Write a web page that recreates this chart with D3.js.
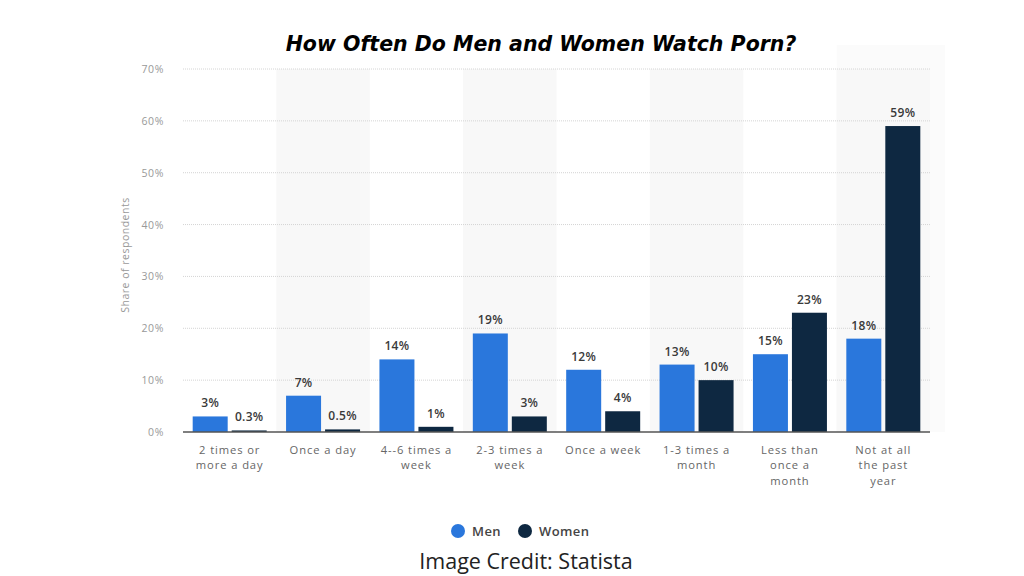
<!DOCTYPE html>
<html><head><meta charset="utf-8">
<script src="https://cdn.jsdelivr.net/npm/d3@7"></script>
<style>body{margin:0;background:#fff;}svg{display:block;}</style>
</head><body>
<svg id="c" width="1024" height="576"></svg>
<script>
const categories = [["2 times or","more a day"],["Once a day"],["4--6 times a","week"],["2-3 times a","week"],["Once a week"],["1-3 times a","month"],["Less than","once a","month"],["Not at all","the past","year"]];
const men = [3,7,14,19,12,13,15,18];
const women = [0.3,0.5,1,3,4,10,23,59];
const menLabels = ["3%","7%","14%","19%","12%","13%","15%","18%"];
const womenLabels = ["0.3%","0.5%","1%","3%","4%","10%","23%","59%"];
const yTicks = [0,10,20,30,40,50,60,70];
const seriesNames = ["Men","Women"];
const colors = ["#2a77dc","#0e2841"];

(function(){
const svg = d3.select("#c");
const pL = 183, pR = 930, pT = 69, pB = 432;
const x = d3.scaleBand().domain(d3.range(categories.length)).range([pL,pR]).paddingInner(0).paddingOuter(0);
const y = d3.scaleLinear().domain([0,70]).range([pB, pT]);
const bw = x.bandwidth();
const barW = 35, gap = 4, off = (bw - 2*barW - gap)/2;
const font = "Open Sans, sans-serif";

// faint panel at right end
svg.append("rect").attr("x", x(categories.length-1)).attr("y",45)
  .attr("width", 945 - x(categories.length-1)).attr("height", pB-45).attr("fill","#fbfbfb");

// alternating shaded bands
svg.append("g").selectAll("rect").data(d3.range(categories.length).filter(i=>i%2===1)).join("rect")
  .attr("x", i=>x(i)).attr("width", bw)
  .attr("y", pT).attr("height", pB-pT)
  .attr("fill","#f8f8f8");

// gridlines
svg.append("g").selectAll("line").data(yTicks.filter(t=>t>0)).join("line")
  .attr("x1", pL).attr("x2", pR).attr("y1", d=>y(d)).attr("y2", d=>y(d))
  .attr("stroke","#d4d4d4").attr("stroke-dasharray","1,1").attr("stroke-width",1);

// y tick labels
svg.append("g").selectAll("text").data(yTicks).join("text")
  .attr("x", 164).attr("y", d=>y(d)+4).attr("text-anchor","end")
  .attr("font-family",font).attr("font-size",10.5).attr("letter-spacing",0.6).attr("fill","#999")
  .text(d=>d+"%");

// y title
svg.append("text").attr("transform","translate(129,255) rotate(-90)")
  .attr("text-anchor","middle").attr("font-family",font)
  .attr("font-size",10.5).attr("letter-spacing",0.5).attr("fill","#999").text("Share of respondents");

// bars
const gm = svg.append("g");
gm.selectAll("rect.m").data(men).join("rect").attr("class","m")
  .attr("x",(d,i)=>x(i)+off).attr("width",barW)
  .attr("y",d=>y(d)).attr("height",d=>pB-y(d)).attr("fill",colors[0]);
gm.selectAll("rect.w").data(women).join("rect").attr("class","w")
  .attr("x",(d,i)=>x(i)+off+barW+gap).attr("width",barW)
  .attr("y",d=>y(d)).attr("height",d=>pB-y(d)).attr("fill",colors[1]);

// value labels
const lblStyle = s => s.attr("text-anchor","middle").attr("font-family",font)
  .attr("font-size",12).attr("font-weight",600).attr("letter-spacing",0.3).attr("fill","#3a3a3a");
gm.selectAll("text.ml").data(men).join("text").attr("class","ml")
  .attr("x",(d,i)=>x(i)+off+barW/2).attr("y",d=>y(d)-9).text((d,i)=>menLabels[i]).call(lblStyle);
gm.selectAll("text.wl").data(women).join("text").attr("class","wl")
  .attr("x",(d,i)=>x(i)+off+barW+gap+barW/2).attr("y",d=>y(d)-9).text((d,i)=>womenLabels[i]).call(lblStyle);

// baseline
svg.append("line").attr("x1",pL).attr("x2",pR).attr("y1",pB).attr("y2",pB)
  .attr("stroke","#555").attr("stroke-width",1.5);

// category labels (one text per line)
const lines = [];
categories.forEach((c,i)=>c.forEach((t,j)=>lines.push({i,j,t})));
svg.append("g").selectAll("text").data(lines).join("text")
  .attr("x",d=>x(d.i)+bw/2).attr("y",d=>454+d.j*15.3).attr("text-anchor","middle")
  .attr("font-family",font).attr("font-size",11.2).attr("letter-spacing",0.9).attr("fill","#666")
  .text(d=>d.t);

// legend
const legX = [458,525];
const lg = svg.append("g").selectAll("g").data(seriesNames).join("g")
  .attr("transform",(d,i)=>`translate(${legX[i]},531)`);
lg.append("circle").attr("r",7).attr("fill",(d,i)=>colors[i]);
lg.append("text").attr("x",14).attr("y",5).attr("font-family",font)
  .attr("font-size",13).attr("font-weight",600).attr("letter-spacing",0.4).attr("fill","#444").text(d=>d);

// title
svg.append("text").attr("x",541).attr("y",51).attr("text-anchor","middle")
  .attr("font-family","DejaVu Sans, sans-serif").attr("font-size",20.5).attr("font-weight",700)
  .attr("font-style","italic").attr("fill","#000").text("How Often Do Men and Women Watch Porn?");

// credit
svg.append("text").attr("x",526).attr("y",569).attr("text-anchor","middle")
  .attr("font-family",font).attr("font-size",21.5).attr("fill","#222")
  .text("Image Credit: Statista");
})();
</script>
</body></html>
